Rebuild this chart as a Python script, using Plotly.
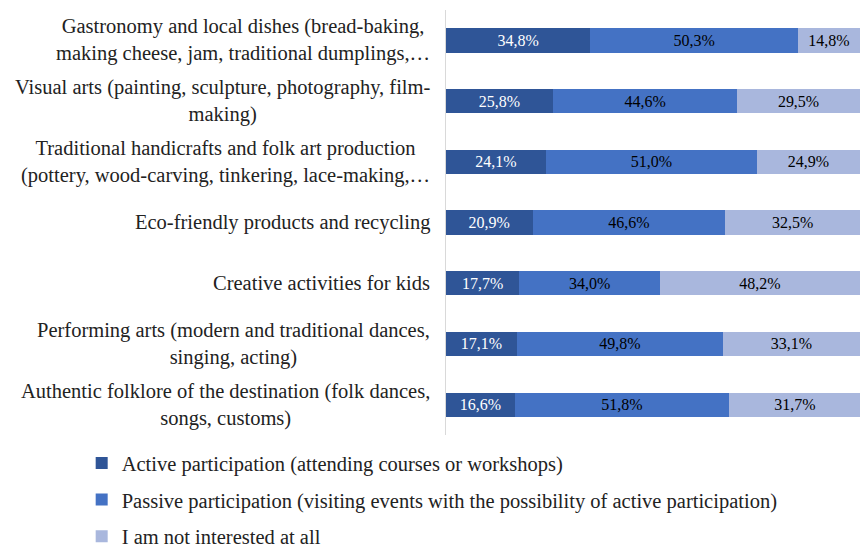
import plotly.graph_objects as go

categories = [
    "Gastronomy and local dishes (bread-baking,<br>making cheese, jam, traditional dumplings,…",
    "Visual arts (painting, sculpture, photography, film-<br>making)",
    "Traditional handicrafts and folk art production<br>(pottery, wood-carving, tinkering, lace-making,…",
    "Eco-friendly products and recycling",
    "Creative activities for kids",
    "Performing arts (modern and traditional dances,<br>singing, acting)",
    "Authentic folklore of the destination (folk dances,<br>songs, customs)",
]
active = [34.8, 25.8, 24.1, 20.9, 17.7, 17.1, 16.6]
passive = [50.3, 44.6, 51.0, 46.6, 34.0, 49.8, 51.8]
not_interested = [14.8, 29.5, 24.9, 32.5, 48.2, 33.1, 31.7]
series_names = [
    "Active participation (attending courses or workshops)",
    "Passive participation (visiting events with the possibility of active participation)",
    "I am not interested at all",
]
colors = ["#2F5597", "#4472C4", "#A9B7DD"]
text_colors = ["white", "black", "black"]

FONT = "Liberation Serif, Times New Roman, serif"
ids = list(range(len(categories)))

fig = go.Figure()
for i, (name, vals) in enumerate(zip(series_names, [active, passive, not_interested])):
    fig.add_trace(go.Bar(
        y=ids, x=vals, orientation="h", name=name,
        marker=dict(color=colors[i], line=dict(width=0)),
        text=[f"{v:.1f}%".replace(".", ",") for v in vals],
        textposition="inside", insidetextanchor="middle",
        textfont=dict(family=FONT, size=17.5, color=text_colors[i]),
        legendgroup=f"g{i}", hoverinfo="skip",
    ))

for i, c in enumerate(categories):
    fig.add_annotation(x=0, xref="paper", y=i, yref="y", text=c,
                       xanchor="right", yanchor="middle", align="center",
                       xshift=-14, showarrow=False,
                       font=dict(family=FONT, size=20.5, color="#222"))

fig.update_layout(
    barmode="stack", bargap=0.6,
    width=860, height=549,
    margin=dict(l=446, r=0, t=10, b=114, autoexpand=False),
    paper_bgcolor="white", plot_bgcolor="white",
    font=dict(family=FONT, size=20.5, color="#222"),
    xaxis=dict(range=[0, 100], visible=False, fixedrange=True),
    yaxis=dict(range=[6.5, -0.5], showticklabels=False, showgrid=False,
               zeroline=False, showline=True, linecolor="#D9D9D9", linewidth=1,
               tickvals=ids, ticks="", fixedrange=True),
    legend=dict(x=-0.88, y=-0.019, xanchor="left", yanchor="top",
                orientation="v", traceorder="grouped", tracegroupgap=7,
                font=dict(family=FONT, size=20.5, color="#222")),
    showlegend=True,
)
fig.write_html("out.html", config={"displayModeBar": False},
               post_script="document.body.style.margin='0';document.body.style.padding='0';")
